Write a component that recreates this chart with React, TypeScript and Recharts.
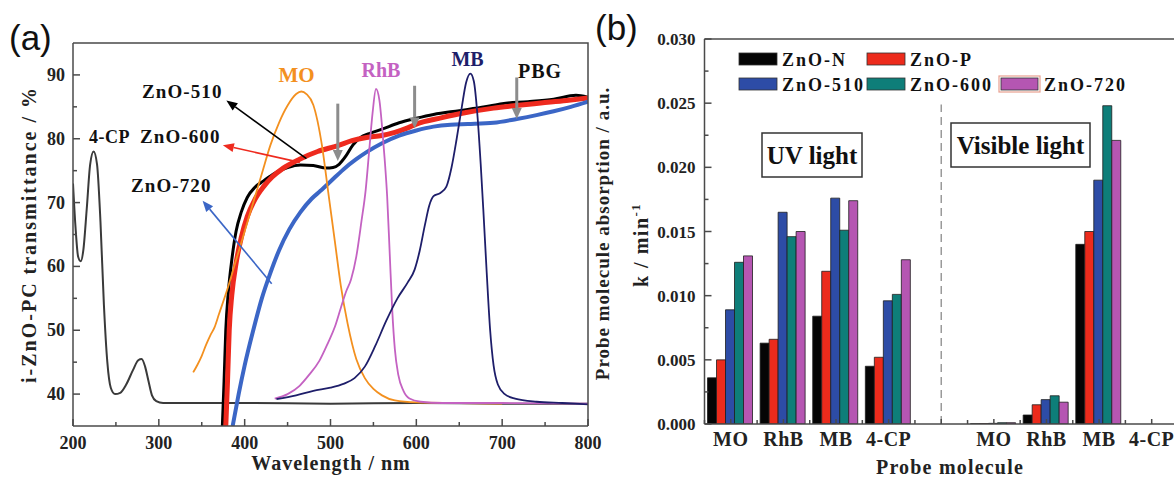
import React from 'react';
import { LineChart, Line, XAxis, YAxis, ReferenceLine, BarChart, Bar } from 'recharts';

// (a) spectra, [wavelength nm, value %]
const fourCP: [number, number][] = [
  [200, 73], [203, 66], [206, 61.5], [209, 60.8], [212, 62.5], [216, 69], [220, 76], [224, 78], [228, 76],
  [232, 67], [236, 54], [240, 45], [244, 41], [249, 40], [255, 40.2], [262, 41.5], [270, 43.8], [276, 45.3],
  [280, 45.5], [284, 44.3], [288, 42], [292, 39.8], [297, 38.9], [305, 38.6], [400, 38.6], [500, 38.5],
  [600, 38.6], [700, 38.5], [800, 38.5],
];
const moSpec: [number, number][] = [
  [340, 43.4], [345, 44.6], [350, 46], [355, 47.7], [360, 49.2], [365, 50.5], [370, 52.5], [380, 56.5],
  [390, 61], [400, 65.5], [410, 70], [420, 74.5], [430, 79], [440, 82.5], [450, 85.2], [460, 87], [466, 87.4],
  [472, 87], [480, 85.3], [490, 79], [497, 72], [505, 64], [512, 57], [520, 51], [530, 45.5], [540, 42.5],
  [550, 40.8], [560, 39.8], [575, 39], [600, 38.7], [650, 38.6], [700, 38.5],
];
const rhbSpec: [number, number][] = [
  [435, 39.3], [450, 40], [464, 41.3], [475, 43], [487, 45.2], [497, 48], [505, 50.5], [512, 53.5], [518, 56],
  [524, 58], [530, 61.5], [536, 67], [541, 72], [545, 78], [549, 84], [553, 87.8], [557, 86], [560, 82],
  [563, 77], [566, 71], [569, 62], [572, 53], [575, 47], [579, 43], [585, 40.5], [592, 39.3], [605, 38.8],
  [630, 38.6], [700, 38.6], [800, 38.5],
];
const mbSpec: [number, number][] = [
  [437, 39.2], [460, 39.8], [480, 40.5], [500, 41], [515, 41.6], [528, 42.5], [540, 44.3], [552, 47.5],
  [565, 51.5], [578, 55], [590, 57.5], [598, 59.5], [604, 62.5], [610, 66.5], [615, 69.5], [620, 71],
  [628, 71.5], [635, 72.5], [641, 75.5], [647, 80], [653, 85], [658, 88.8], [663, 90.2], [667, 89], [671, 84],
  [675, 76], [678, 69], [682, 59], [686, 50], [690, 44.5], [695, 41.5], [703, 40], [715, 39.3], [740, 38.8],
  [770, 38.6], [800, 38.4],
];
const zno510Spec: [number, number][] = [
  [374, 35], [376, 42], [378, 50], [381, 56], [385, 61], [390, 65.5], [396, 68.5], [403, 70.8], [412, 72.4],
  [422, 73.4], [435, 74.6], [450, 75.5], [465, 75.9], [480, 75.8], [495, 75.4], [503, 75.5], [510, 76],
  [518, 77.3], [526, 79], [535, 80.2], [545, 80.8], [560, 81.5], [580, 82.5], [600, 83.2], [620, 83.8],
  [650, 84.4], [680, 85], [700, 85.5], [730, 85.8], [760, 86.2], [786, 86.8], [800, 86.5],
];
const zno600Spec: [number, number][] = [
  [378, 35], [380, 42], [382, 50], [385, 55.5], [390, 60.5], [396, 64.5], [403, 67.8], [412, 70.5],
  [422, 72.5], [432, 74], [445, 75.4], [464, 76.8], [485, 78], [508, 78.9], [525, 79.7], [542, 80.2],
  [560, 80.5], [575, 81], [590, 81.7], [600, 82.3], [630, 83.3], [658, 84.1], [690, 84.8], [716, 85.2],
  [745, 85.6], [775, 86], [800, 86.4],
];
const zno720Spec: [number, number][] = [
  [386, 35], [393, 40], [400, 44.5], [410, 50], [420, 55], [430, 59], [440, 62.5], [452, 65.8], [465, 68.5],
  [478, 70.6], [488, 71.8], [500, 73.3], [515, 75.2], [530, 76.8], [542, 77.9], [560, 79.3], [580, 80.5],
  [600, 81.3], [620, 81.9], [640, 82.2], [660, 82.3], [690, 82.5], [717, 83.1], [740, 83.7], [760, 84.3],
  [780, 85], [800, 85.8],
];

// PBG markers: wavelength, arrow start %, arrow tip %
const pbgArrows: [number, number, number][] = [[508.5, 85.5, 76.5], [598, 88.3, 81.6], [717, 89.6, 83.1]];
// label arrows: tail (nm, %) -> tip (nm, %)
const tailTip510 = [[471.9, 76.9], [378.7, 86]];
const tailTip600 = [[464.3, 76.3], [374.6, 79]];
const tailTip720 = [[431.5, 57.3], [351, 70.3]];

const xTicksA = [200, 250, 300, 350, 400, 450, 500, 550, 600, 650, 700, 750, 800];
const yTicksA = [40, 45, 50, 55, 60, 65, 70, 75, 80, 85, 90];

// (b) rate constants k / min^-1, order MO, RhB, MB, 4-CP
const probes = ['MO', 'RhB', 'MB', '4-CP'];
const uvZnON = [0.0036, 0.0063, 0.0084, 0.0045];
const uvZnOP = [0.005, 0.0066, 0.0119, 0.0052];
const uvZnO510 = [0.0089, 0.0165, 0.0176, 0.0096];
const uvZnO600 = [0.0126, 0.0146, 0.0151, 0.0101];
const uvZnO720 = [0.0131, 0.015, 0.0174, 0.0128];
const visZnON = [0.00002, 0.0007, 0.014, 0];
const visZnOP = [0.00003, 0.0015, 0.015, 0];
const visZnO510 = [0.00005, 0.0019, 0.019, 0];
const visZnO600 = [0.0001, 0.0022, 0.0248, 0];
const visZnO720 = [0.0001, 0.0017, 0.0221, 0];
const yTicksB = [0, 0.0025, 0.005, 0.0075, 0.01, 0.0125, 0.015, 0.0175, 0.02, 0.0225, 0.025, 0.0275, 0.03];

const SERIF = '"Liberation Serif", "Times New Roman", Times, serif';
const SANS = '"Liberation Sans", Arial, sans-serif';
const AXIS = '#4a4a4a';

// panel (a) plot box
const A_W = 620;
const A_H = 479;
const A_M = { top: 43, right: 32, bottom: 23, left: 13 };
const A_YW = 60;
const A_XH = 30;

const spectra = [
  { name: '4-CP', pts: fourCP, color: '#3a3a3a', width: 2 },
  { name: 'ZnO-510', pts: zno510Spec, color: '#000000', width: 3 },
  { name: 'ZnO-600', pts: zno600Spec, color: '#ee2a1e', width: 5 },
  { name: 'ZnO-720', pts: zno720Spec, color: '#3b66c6', width: 4 },
  { name: 'MO', pts: moSpec, color: '#f3901f', width: 1.8 },
  { name: 'RhB', pts: rhbSpec, color: '#c462c2', width: 1.8 },
  { name: 'MB', pts: mbSpec, color: '#1e1e6a', width: 1.8 },
];

const samples = [
  { key: 'n', name: 'ZnO-N', uv: uvZnON, vis: visZnON, color: '#050505' },
  { key: 'p', name: 'ZnO-P', uv: uvZnOP, vis: visZnOP, color: '#ec2b1c' },
  { key: 's510', name: 'ZnO-510', uv: uvZnO510, vis: visZnO510, color: '#2d4ca6' },
  { key: 's600', name: 'ZnO-600', uv: uvZnO600, vis: visZnO600, color: '#0e7e79' },
  { key: 's720', name: 'ZnO-720', uv: uvZnO720, vis: visZnO720, color: '#b556b2' },
];

const rowFor = (slot: string, label: string, pick: (s: any) => number | undefined) => {
  const row: any = { slot, label };
  samples.forEach((s) => { row[s.key] = pick(s); });
  return row;
};
const barRows = [
  ...probes.map((p, i) => rowFor(`uv-${p}`, p, (s) => s.uv[i])),
  rowFor('gap', '', () => undefined),
  ...probes.map((p, i) => rowFor(`vis-${p}`, p, (s) => s.vis[i])),
];

const arrowShape = (color: string, w: number, head: number, half: number) => (p: any) => {
  const { x1, y1, x2, y2 } = p;
  const dx = x2 - x1;
  const dy = y2 - y1;
  const len = Math.hypot(dx, dy) || 1;
  const ux = dx / len;
  const uy = dy / len;
  const bx = x2 - ux * head;
  const by = y2 - uy * head;
  const pts = `${x2},${y2} ${bx - uy * half},${by + ux * half} ${bx + uy * half},${by - ux * half}`;
  return (
    <g>
      <line x1={x1} y1={y1} x2={bx} y2={by} stroke={color} strokeWidth={w} />
      <polygon points={pts} fill={color} />
    </g>
  );
};

const yTickA = (p: any) => {
  const v = Number(p.payload.value);
  const major = v % 10 === 0;
  return (
    <g>
      <line x1={p.x} y1={p.y} x2={p.x + (major ? 7 : 4)} y2={p.y} stroke={AXIS} strokeWidth={1.5} />
      {major && (
        <text x={p.x - 8} y={p.y + 6} textAnchor="end" fontFamily={SERIF} fontWeight="bold" fontSize={18} fill="#222">
          {v}
        </text>
      )}
    </g>
  );
};

const xTickA = (p: any) => {
  const v = Number(p.payload.value);
  const major = v % 100 === 0;
  return (
    <g>
      <line x1={p.x} y1={p.y} x2={p.x} y2={p.y - (major ? 7 : 4)} stroke={AXIS} strokeWidth={1.5} />
      {major && (
        <text x={p.x} y={p.y + 23} textAnchor="middle" fontFamily={SERIF} fontWeight="bold" fontSize={18} fill="#222">
          {v}
        </text>
      )}
    </g>
  );
};

const yTickB = (p: any) => {
  const v = Number(p.payload.value);
  const major = Math.round(v * 10000) % 50 === 0;
  return (
    <g>
      <line x1={p.x} y1={p.y} x2={p.x + (major ? 7 : 4)} y2={p.y} stroke={AXIS} strokeWidth={1.5} />
      {major && (
        <text x={p.x - 9} y={p.y + 6} textAnchor="end" fontFamily={SERIF} fontWeight="bold" fontSize={17} fill="#222">
          {v.toFixed(3)}
        </text>
      )}
    </g>
  );
};

const xTickB = (p: any) => {
  const off = p.payload.offset || 26.3;
  const row = barRows.find((r) => r.slot === p.payload.value);
  return (
    <g>
      <line x1={p.x} y1={p.y} x2={p.x} y2={p.y - 5} stroke={AXIS} strokeWidth={1.5} />
      <line x1={p.x - off} y1={p.y} x2={p.x - off} y2={p.y - 4} stroke={AXIS} strokeWidth={1.5} />
      <text x={p.x} y={p.y + 22} textAnchor="middle" fontFamily={SERIF} fontWeight="bold" fontSize={20}
        letterSpacing={0.5} fill="#222">
        {row ? row.label : ''}
      </text>
    </g>
  );
};

const SpectraPanel = () => (
  <LineChart width={A_W} height={A_H} margin={A_M}>
    <XAxis type="number" dataKey="x" domain={[200, 800]} allowDataOverflow ticks={xTicksA} interval={0}
      height={A_XH} tickSize={0} tickMargin={0} tickLine={false} tick={xTickA}
      axisLine={{ stroke: AXIS, strokeWidth: 1.5 }} />
    <YAxis type="number" dataKey="y" domain={[35, 95]} allowDataOverflow ticks={yTicksA} interval={0}
      width={A_YW} tickSize={0} tickMargin={0} tickLine={false} tick={yTickA}
      axisLine={{ stroke: AXIS, strokeWidth: 1.5 }} />
    {spectra.map((s) => (
      <Line key={s.name} name={s.name} data={s.pts.map(([x, y]) => ({ x, y }))} dataKey="y" type="monotone"
        stroke={s.color} strokeWidth={s.width} dot={false} activeDot={false} isAnimationActive={false} />
    ))}
    {pbgArrows.map(([x, from, to]) => (
      <ReferenceLine key={x} segment={[{ x, y: from }, { x, y: to }]}
        shape={arrowShape('#8c8c8c', 3, 11, 5)} />
    ))}
    <ReferenceLine segment={tailTip510.map(([x, y]) => ({ x, y }))} shape={arrowShape('#000', 1.6, 11, 4.5)} />
    <ReferenceLine segment={tailTip600.map(([x, y]) => ({ x, y }))} shape={arrowShape('#ee2a1e', 1.6, 11, 4.5)} />
    <ReferenceLine segment={tailTip720.map(([x, y]) => ({ x, y }))} shape={arrowShape('#3b66c6', 1.6, 11, 4.5)} />
  </LineChart>
);

const RatePanel = () => (
  <BarChart width={600} height={479} data={barRows} barGap={0} barCategoryGap={3}
    margin={{ top: 39, right: 22, bottom: 25, left: 44.5 }}>
    <XAxis dataKey="slot" type="category" interval={0} height={30} tickSize={0} tickMargin={0}
      tickLine={false} tick={xTickB} axisLine={{ stroke: AXIS, strokeWidth: 1.5 }} />
    <YAxis type="number" domain={[0, 0.03]} allowDataOverflow ticks={yTicksB} interval={0} width={60}
      tickSize={0} tickMargin={0} tickLine={false} tick={yTickB} axisLine={{ stroke: AXIS, strokeWidth: 1.5 }} />
    <ReferenceLine y={0.03} stroke={AXIS} strokeWidth={1.5} />
    <ReferenceLine segment={[{ x: 'gap', y: 0 }, { x: 'gap', y: 0.0249 }]} stroke="#9a9a9a" strokeWidth={1.5}
      strokeDasharray="8 5" />
    {samples.map((s) => (
      <Bar key={s.key} dataKey={s.key} name={s.name} fill={s.color} stroke="#1e1e1e" strokeWidth={0.8}
        isAnimationActive={false} />
    ))}
  </BarChart>
);

const aNotes = [
  { text: 'MO', x: 296.5, y: 82, color: '#f3901f', size: 21, anchor: 'middle', ls: 0 },
  { text: 'RhB', x: 381, y: 77, color: '#c462c2', size: 20, anchor: 'middle', ls: 0 },
  { text: 'MB', x: 467.5, y: 66, color: '#1e1e6a', size: 20, anchor: 'middle', ls: 0 },
  { text: 'PBG', x: 518, y: 78, color: '#111', size: 20, anchor: 'start', ls: 1 },
  { text: 'ZnO-510', x: 142, y: 98, color: '#111', size: 19, anchor: 'start', ls: 1.1 },
  { text: 'ZnO-600', x: 140, y: 143, color: '#111', size: 19, anchor: 'start', ls: 1.1 },
  { text: '4-CP', x: 89, y: 143, color: '#111', size: 18, anchor: 'start', ls: 0.5 },
  { text: 'ZnO-720', x: 131, y: 192, color: '#111', size: 19, anchor: 'start', ls: 1.1 },
];
const legendSpots: [number, number][] = [[739, 53], [867, 53], [739, 78], [867, 78], [1001, 78]];

const Overlay = () => {
  // top and right edges of panel (a) frame
  const left = A_M.left + A_YW;
  const right = A_W - A_M.right;
  const top = A_M.top;
  const bottom = A_H - A_M.bottom - A_XH;
  return (
    <svg width={1174} height={479} style={{ position: 'absolute', left: 0, top: 0, pointerEvents: 'none' }}>
      <polyline points={`${left},${top} ${right},${top} ${right},${bottom}`} fill="none" stroke={AXIS} strokeWidth={1.5} />
      <text x={9} y={50} fontFamily={SANS} fontSize={35} fill="#111">(a)</text>
      <text x={595} y={40} fontFamily={SANS} fontSize={35} fill="#111">(b)</text>
      {aNotes.map((n) => (
        <text key={n.text} x={n.x} y={n.y} textAnchor={n.anchor as any} fontFamily={SERIF} fontWeight="bold"
          fontSize={n.size} letterSpacing={n.ls} fill={n.color}>{n.text}</text>
      ))}
      <text x={331} y={470} textAnchor="middle" fontFamily={SERIF} fontWeight="bold" fontSize={20}
        letterSpacing={1} fill="#222">Wavelength / nm</text>
      <text transform="translate(36,234.5) rotate(-90)" textAnchor="middle" fontFamily={SERIF} fontWeight="bold"
        fontSize={20} letterSpacing={2} fill="#222">i-ZnO-PC transmittance / %</text>
      <text x={950} y={474} textAnchor="middle" fontFamily={SERIF} fontWeight="bold" fontSize={20}
        letterSpacing={1.2} fill="#222">Probe molecule</text>
      <text transform="translate(609,233.5) rotate(-90)" textAnchor="middle" fontFamily={SERIF} fontWeight="bold"
        fontSize={19} letterSpacing={1} fill="#222">Probe molecule absorption / a.u.</text>
      <text transform="translate(648,287) rotate(-90)" textAnchor="start" fontFamily={SERIF} fontWeight="bold"
        fontSize={20} letterSpacing={1.5} fill="#222">
        k / min<tspan dy={-8} fontSize={13}>-1</tspan>
      </text>
      {samples.map((s, i) => {
        const [x, y] = legendSpots[i];
        return (
          <g key={s.key}>
            {i === 4 && <rect x={x - 2} y={y - 2} width={41} height={16} fill="none" stroke="#e8a090" strokeWidth={1.2} />}
            <rect x={x} y={y} width={i === 4 ? 37 : 38} height={12} fill={s.color} stroke="#333" strokeWidth={0.8} />
            <text x={x + 43} y={y + 12.5} fontFamily={SERIF} fontWeight="bold" fontSize={18}
              letterSpacing={2} fill="#111">{s.name}</text>
          </g>
        );
      })}
      <rect x={762} y={133} width={100} height={44} fill="#fff" stroke="#333" strokeWidth={1.5} />
      <text x={812} y={163.5} textAnchor="middle" fontFamily={SERIF} fontWeight="bold" fontSize={25} fill="#111">UV light</text>
      <rect x={951} y={123} width={139} height={44} fill="#fff" stroke="#333" strokeWidth={1.5} />
      <text x={1020.5} y={153.5} textAnchor="middle" fontFamily={SERIF} fontWeight="bold" fontSize={25} fill="#111">Visible light</text>
    </svg>
  );
};

export default function App() {
  return (
    <div style={{ position: 'absolute', left: 0, top: 0, width: 1174, height: 479, overflow: 'hidden', background: '#fff' }}>
      <div style={{ position: 'absolute', left: 0, top: 0 }}>
        <SpectraPanel />
      </div>
      <div style={{ position: 'absolute', left: 600, top: 0 }}>
        <RatePanel />
      </div>
      <Overlay />
    </div>
  );
}
